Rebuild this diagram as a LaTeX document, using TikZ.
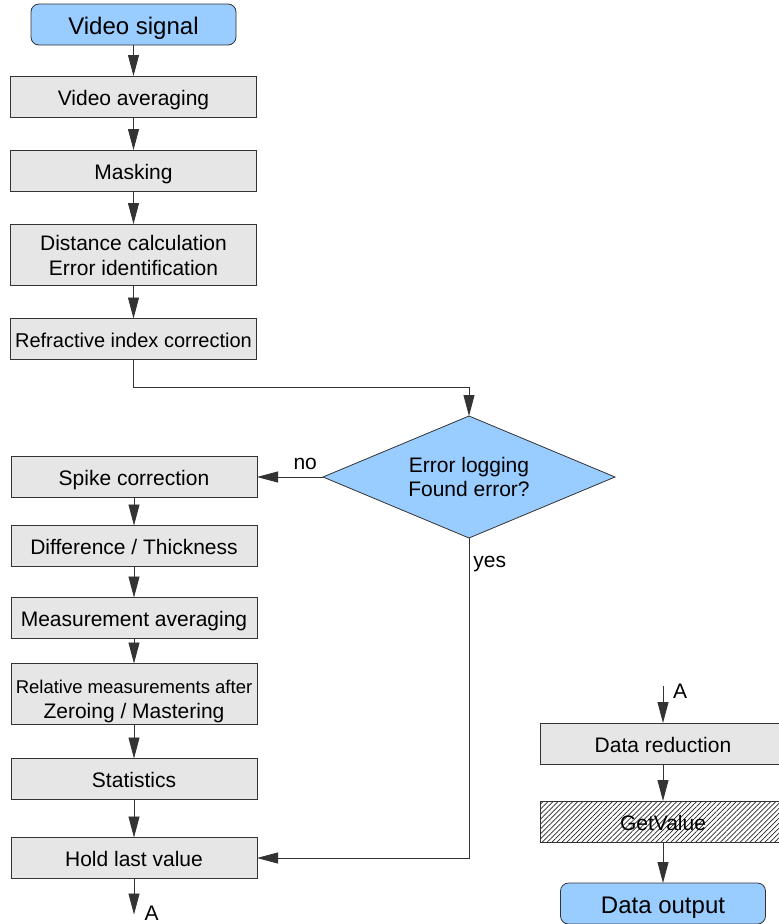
\documentclass[tikz,border=0pt]{standalone}
\usepackage{fontspec}
\setmainfont{Liberation Sans}
\usetikzlibrary{arrows.meta,positioning,shapes.geometric,patterns.meta}
\definecolor{flowblue}{HTML}{99CCFF}
\definecolor{flowgray}{HTML}{E6E6E6}
\definecolor{flowedge}{HTML}{333333}
\tikzset{
  procbox/.style={draw=flowedge, line width=0.8pt, fill=flowgray, align=center,
    minimum width=246pt, minimum height=41pt, inner sep=0pt, outer sep=0pt,
    text height=18pt, text depth=1pt, font=\fontsize{21}{25}\selectfont},
  twoline/.style={text height=#1, text depth=0pt},
  termbox/.style={procbox, fill=flowblue, rounded corners=8pt, minimum width=205pt,
    text height=21.5pt, text depth=0.7pt, font=\fontsize{24}{28}\selectfont},
  decide/.style={diamond, draw=flowedge, line width=0.8pt, fill=flowblue, align=center,
    minimum width=292pt, minimum height=122pt, inner sep=0pt, outer sep=0pt, aspect=2.4,
    font=\fontsize{21}{24}\selectfont},
  hatchbox/.style={procbox, fill=none, pattern={Lines[angle=45,distance=3.5pt,line width=0.7pt]},
    pattern color=black!85},
  flow/.style={-{Triangle[length=21pt,width=11pt]}, line width=0.8pt, draw=flowedge},
  lbl/.style={font=\fontsize{21}{25}\selectfont, inner sep=0pt},
}

\begin{document}
\begin{tikzpicture}[x=1pt, y=-1pt]
\useasboundingbox (0,0) rectangle (779,924);
\node[termbox] (VS) at (133.5,24.5) {Video signal};
\node[procbox, below=31pt of VS] (VA) {Video averaging};
\node[procbox, below=33pt of VA] (MK) {Masking};
\node[procbox, twoline=40.6pt, minimum height=61.5pt, below=33pt of MK] (DC) {Distance calculation\\Error identification};
\node[procbox, font=\fontsize{20}{24}\selectfont, below=33pt of DC] (RI) {Refractive index correction};
\node[decide] (EL) at (469,477) {Error logging\\Found error?};
\node[procbox, left=66pt of EL] (SC) {Spike correction};
\node[procbox, below=28pt of SC] (DT) {Difference / Thickness};
\node[procbox, below=31pt of DT] (MA) {Measurement averaging};
\node[procbox, twoline=48pt, minimum height=61pt, below=25pt of MA] (RM)
  {{\fontsize{18.5}{25}\selectfont Relative measurements after}\\Zeroing / Mastering};
\node[procbox, below=34pt of RM] (ST) {Statistics};
\node[procbox, below=38pt of ST] (HL) {Hold last value};
\coordinate[below=36pt of HL] (Aout);
\node[lbl, anchor=base west] (AoutLbl) at ([xshift=10.5pt, yshift=-6pt]Aout) {A};
\coordinate (Ain) at (663,686);
\node[lbl, anchor=base west] (AinLbl) at ([xshift=10pt, yshift=-12pt]Ain) {A};
\node[procbox] (DR) at (663,743.5) {Data reduction};
\node[hatchbox, below=37pt of DR] (GV) {GetValue};
\node[termbox, below=41pt of GV] (DO) {Data output};
\draw[flow] (VS) -- (VA);
\draw[flow] (VA) -- (MK);
\draw[flow] (MK) -- (DC);
\draw[flow] (DC) -- (RI);
\draw[flow] (RI.south) -- ++(0,28) -| (EL.north);
\draw[flow] (EL.west) -- node[lbl, pos=.27, above=7pt] {no} (SC.east);
\draw[flow] (EL.south) |- node[lbl, pos=.04, right=4pt] {yes} (HL.east);
\draw[flow] (SC) -- (DT);
\draw[flow] (DT) -- (MA);
\draw[flow] (MA) -- (RM);
\draw[flow] (RM) -- (ST);
\draw[flow] (ST) -- (HL);
\draw[flow] (HL) -- (Aout);
\draw[flow] (Ain) -- (DR);
\draw[flow] (DR) -- (GV);
\draw[flow] (GV) -- (DO);
\end{tikzpicture}
\end{document}
